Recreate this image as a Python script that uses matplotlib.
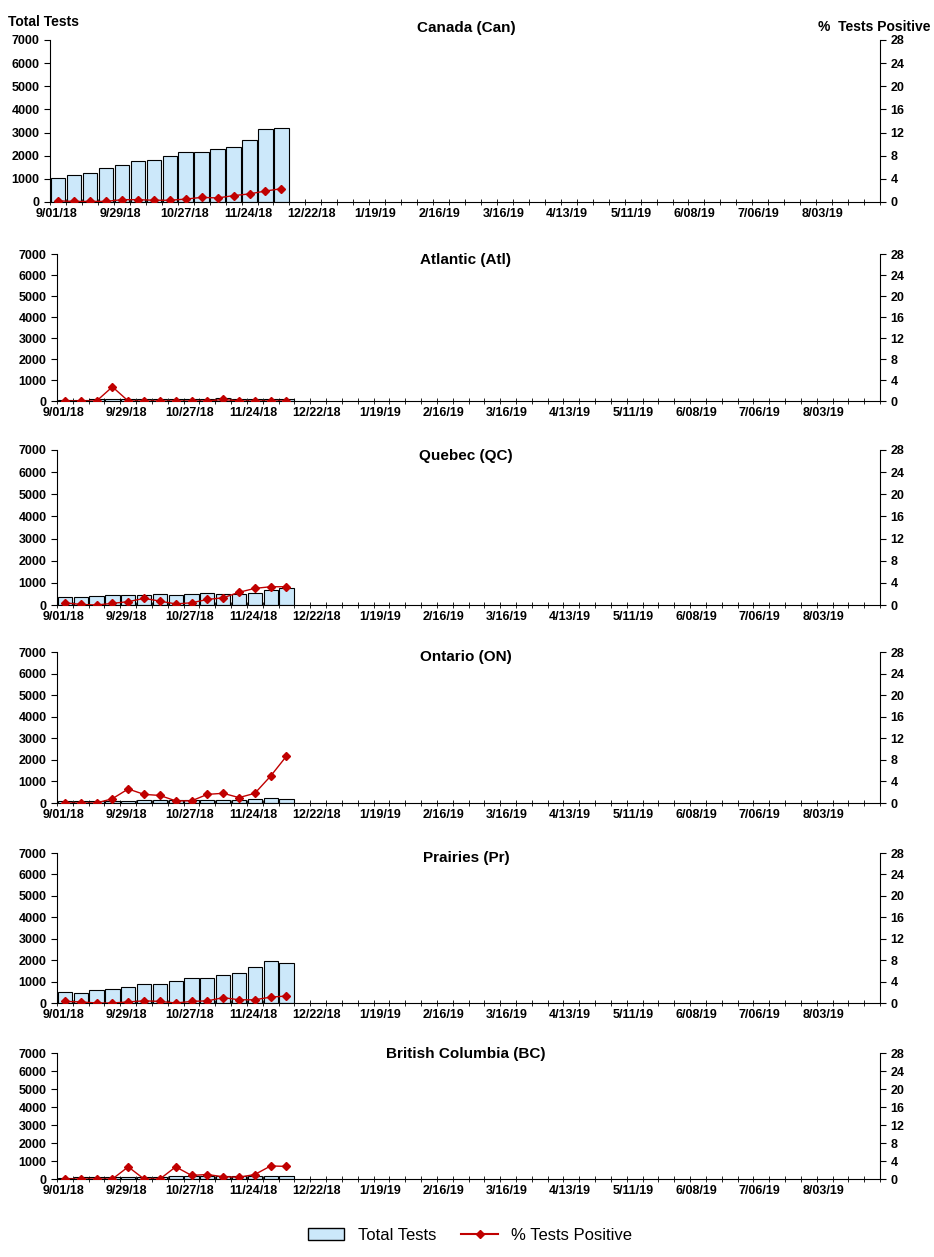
import matplotlib
matplotlib.use("Agg")
import matplotlib.pyplot as plt
import numpy as np
from matplotlib.lines import Line2D
from matplotlib.patches import Patch

tick_labels = ["9/01/18","9/29/18","10/27/18","11/24/18","12/22/18","1/19/19","2/16/19",
               "3/16/19","4/13/19","5/11/19","6/08/19","7/06/19","8/03/19"]
titles = ["Canada (Can)","Atlantic (Atl)","Quebec (QC)","Ontario (ON)","Prairies (Pr)","British Columbia (BC)"]
tests = [
    [1050,1150,1250,1480,1620,1780,1820,2000,2180,2150,2300,2380,2700,3150,3180],
    [60,70,80,90,90,100,90,100,100,110,120,110,100,110,100],
    [380,350,400,450,450,450,480,460,500,550,500,480,560,680,780],
    [90,90,90,100,110,120,130,140,130,140,140,150,170,220,170],
    [500,480,620,660,760,900,900,1050,1150,1150,1300,1400,1700,1950,1870],
    [80,90,100,110,120,130,130,140,150,150,140,140,150,150,140],
]
pos = [
    [0.2,0.1,0.1,0.1,0.4,0.4,0.3,0.3,0.5,0.8,0.7,1.1,1.4,1.9,2.3],
    [0,0,0,2.7,0,0,0,0,0,0,0.3,0,0,0,0],
    [0.4,0.1,0,0.3,0.6,1.2,0.7,0.2,0.4,1.0,1.3,2.3,3.0,3.3,3.3],
    [0,0,0,0.8,2.6,1.6,1.4,0.4,0.4,1.6,1.8,1.0,1.8,5.0,8.7],
    [0.3,0.2,0,0,0.2,0.4,0.3,0,0.3,0.4,1.0,0.6,0.6,1.1,1.3],
    [0,0,0,0,2.7,0,0,2.7,0.8,1.0,0.5,0.4,1.0,2.9,2.8],
]
W, H = 934, 1257
boxes = [(50,202,40),(57,401,254),(57,605,450),(57,803,652),(57,1003,853),(57,1179,1053)]
title_y = [28,260,456,657,858,1054]
right = 880
BAR = "#CCE8FA"; RED = "#C00000"

fig = plt.figure(figsize=(W/100, H/100), dpi=100)
plt.rcParams["font.family"] = "Liberation Sans"
for i,(l,b,t) in enumerate(boxes):
    ax = fig.add_axes([l/W, 1-b/H, (right-l)/W, (b-t)/H])
    x = np.arange(len(tests[i]))
    ax.bar(x, tests[i], width=0.9, color=BAR, edgecolor="black", linewidth=0.8)
    ax.set_xlim(-0.5, 51.5)
    ax.set_ylim(0, 7000)
    ax.set_yticks(range(0, 7001, 1000))
    ax.set_xticks(np.arange(0, 52, 4) - 0.1)
    ax.set_xticklabels(tick_labels, fontsize=9, fontweight="bold")
    ax.set_xticks(np.arange(-0.5, 52, 1), minor=True)
    ax.tick_params(axis="x", which="major", length=0, pad=4)
    ax.tick_params(axis="x", which="minor", length=4, direction="inout")
    ax.tick_params(axis="y", labelsize=9, length=4)
    for lab in ax.get_yticklabels(): lab.set_fontweight("bold")
    for s in ["top","right"]: ax.spines[s].set_visible(False)
    ax2 = ax.twinx()
    ax2.plot(x, pos[i], color=RED, marker="D", markersize=4.5, linewidth=1)
    ax2.set_ylim(0, 28)
    ax2.set_yticks(range(0, 29, 4))
    ax2.tick_params(axis="y", labelsize=9, length=4)
    for lab in ax2.get_yticklabels(): lab.set_fontweight("bold")
    for s in ["top","left","bottom"]: ax2.spines[s].set_visible(False)
    fig.text(466/W, 1-title_y[i]/H, titles[i], fontsize=11, fontweight="bold", ha="center", va="center")
    if i == 0:
        fig.text(8/W, 1-22/H, "Total Tests", fontsize=10, fontweight="bold", va="center")
        fig.text(818/W, 1-27/H, "%  Tests Positive", fontsize=10, fontweight="bold", va="center")

handles = [Patch(facecolor=BAR, edgecolor="black", label="Total Tests"),
           Line2D([0],[0], color=RED, marker="D", markersize=4.5, label="% Tests Positive")]
fig.legend(handles=handles, loc="center", bbox_to_anchor=(470/W, 1-1235/H), ncol=2,
           frameon=False, fontsize=12, handlelength=2.2, columnspacing=1.5)
fig.savefig("out.png", dpi=100)
